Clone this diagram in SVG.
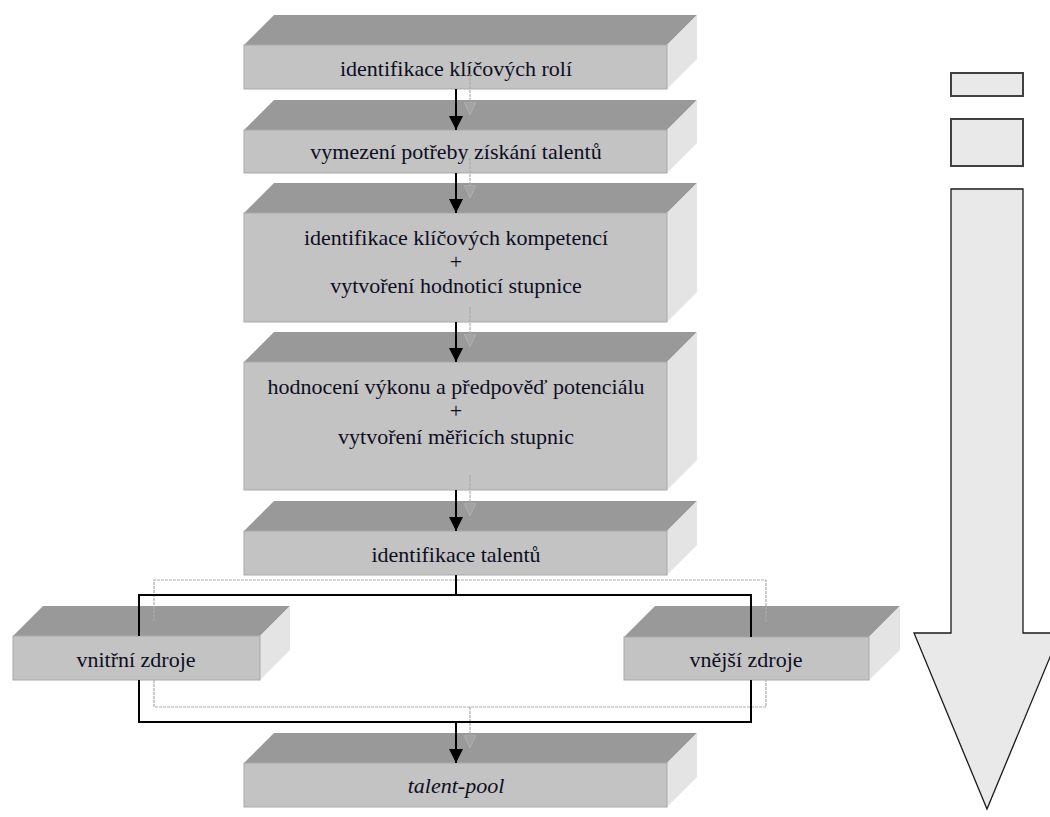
<svg xmlns="http://www.w3.org/2000/svg" width="1050" height="817" viewBox="0 0 1050 817">
  <style>
    .top { fill: #999999; }
    .side { fill: #e4e4e4; }
    .front { fill: #c3c3c3; stroke: #a9a9a9; stroke-width: 1; }
    .lbl { font-family: "Liberation Serif", "Times New Roman", serif; font-size: 22px; fill: #0e0e22; text-anchor: middle; }
    .it { font-style: italic; }
    .flow { stroke: #000; stroke-width: 2; fill: none; }
    .shadow { stroke: #ababab; stroke-width: 1.2; stroke-dasharray: 3 1; fill: none; }
    .gauge { fill: #e9e9e9; stroke: #404040; stroke-width: 2; }
    .bigarrow { fill: #e9e9e9; stroke: #1a1a1a; stroke-width: 1.3; }
  </style>
  <defs>
    <marker id="head" markerUnits="userSpaceOnUse" markerWidth="14" markerHeight="14" refX="14" refY="7" orient="auto">
      <path d="M0,0 L14,7 L0,14 z" fill="#000"/>
    </marker>
    <marker id="headShadow" markerUnits="userSpaceOnUse" markerWidth="13" markerHeight="12" refX="13" refY="6" orient="auto">
      <path d="M0,0 L13,6 L0,12 z" fill="#a3a3a3" stroke="#b3b3b3" stroke-width="0.8"/>
    </marker>
  </defs>

  <rect width="1050" height="817" fill="#ffffff"/>

  <!-- process steps (3D blocks) -->
  <g id="step-roles">
    <polygon class="top" points="244,45 274,15 697,15 667,45"/>
    <polygon class="side" points="667,45 697,15 697,59 667,89"/>
    <rect class="front" x="244" y="45" width="423" height="44"/>
    <text class="lbl" x="456" y="76">identifikace klíčových rolí</text>
  </g>

  <g id="step-need">
    <polygon class="top" points="244,130 274,100 697,100 667,130"/>
    <polygon class="side" points="667,130 697,100 697,143 667,173"/>
    <rect class="front" x="244" y="130" width="423" height="43"/>
    <text class="lbl" x="456" y="159">vymezení potřeby získání talentů</text>
  </g>

  <g id="step-competences">
    <polygon class="top" points="244,213 274,183 697,183 667,213"/>
    <polygon class="side" points="667,213 697,183 697,292 667,322"/>
    <rect class="front" x="244" y="213" width="423" height="109"/>
    <text class="lbl" x="456" y="245">identifikace klíčových kompetencí</text>
    <text class="lbl" x="456" y="269">+</text>
    <text class="lbl" x="456" y="293">vytvoření hodnoticí stupnice</text>
  </g>

  <g id="step-assessment">
    <polygon class="top" points="244,362 274,332 697,332 667,362"/>
    <polygon class="side" points="667,362 697,332 697,460 667,490"/>
    <rect class="front" x="244" y="362" width="423" height="128"/>
    <text class="lbl" x="456" y="394">hodnocení výkonu a předpověď potenciálu</text>
    <text class="lbl" x="456" y="418">+</text>
    <text class="lbl" x="456" y="444">vytvoření měřicích stupnic</text>
  </g>

  <g id="step-talents">
    <polygon class="top" points="244,531 274,501 697,501 667,531"/>
    <polygon class="side" points="667,531 697,501 697,545 667,575"/>
    <rect class="front" x="244" y="531" width="423" height="44"/>
    <text class="lbl" x="456" y="562">identifikace talentů</text>
  </g>

  <g id="source-internal">
    <polygon class="top" points="13,636 43,606 290,606 260,636"/>
    <polygon class="side" points="260,636 290,606 290,650 260,680"/>
    <rect class="front" x="13" y="636" width="247" height="44"/>
    <text class="lbl" x="136" y="667">vnitřní zdroje</text>
  </g>

  <g id="source-external">
    <polygon class="top" points="624,637 655,606 900,606 869,637"/>
    <polygon class="side" points="869,637 900,606 900,650 869,680"/>
    <rect class="front" x="624" y="637" width="245" height="43"/>
    <text class="lbl" x="746" y="667">vnější zdroje</text>
  </g>

  <g id="talent-pool">
    <polygon class="top" points="244,763 274,733 697,733 667,763"/>
    <polygon class="side" points="667,763 697,733 697,777 667,807"/>
    <rect class="front" x="244" y="763" width="423" height="44"/>
    <text class="lbl it" x="456" y="793">talent-pool</text>
  </g>

  <!-- connectors: black flow with its grey dashed offset copy -->
  <g id="connectors">
    <line class="shadow" x1="470" y1="74" x2="470" y2="115" marker-end="url(#headShadow)"/>
    <line class="shadow" x1="470" y1="158" x2="470" y2="198" marker-end="url(#headShadow)"/>
    <line class="shadow" x1="470" y1="307" x2="470" y2="347" marker-end="url(#headShadow)"/>
    <line class="shadow" x1="470" y1="475" x2="470" y2="516" marker-end="url(#headShadow)"/>
    <polyline class="shadow" points="154,621 154,580 766,580 766,622"/>
    <polyline class="shadow" points="154,680 154,707 766,707 766,680"/>
    <line class="shadow" x1="470" y1="707" x2="470" y2="748" marker-end="url(#headShadow)"/>

    <line class="flow" x1="456" y1="89" x2="456" y2="130" marker-end="url(#head)"/>
    <line class="flow" x1="456" y1="173" x2="456" y2="213" marker-end="url(#head)"/>
    <line class="flow" x1="456" y1="322" x2="456" y2="362" marker-end="url(#head)"/>
    <line class="flow" x1="456" y1="490" x2="456" y2="531" marker-end="url(#head)"/>
    <line class="flow" x1="456" y1="575" x2="456" y2="595"/>
    <polyline class="flow" points="139,636 139,595 751,595 751,637"/>
    <polyline class="flow" points="139,680 139,722 751,722 751,680"/>
    <line class="flow" x1="456" y1="722" x2="456" y2="763" marker-end="url(#head)"/>
  </g>

  <!-- widening arrow on the right -->
  <g id="progress-arrow">
    <rect class="gauge" x="951" y="73" width="72" height="23"/>
    <rect class="gauge" x="951" y="119" width="72" height="47"/>
    <polygon class="bigarrow" points="951,189 1023,189 1023,633 1060,633 987,809 914,633 951,633"/>
  </g>
</svg>
